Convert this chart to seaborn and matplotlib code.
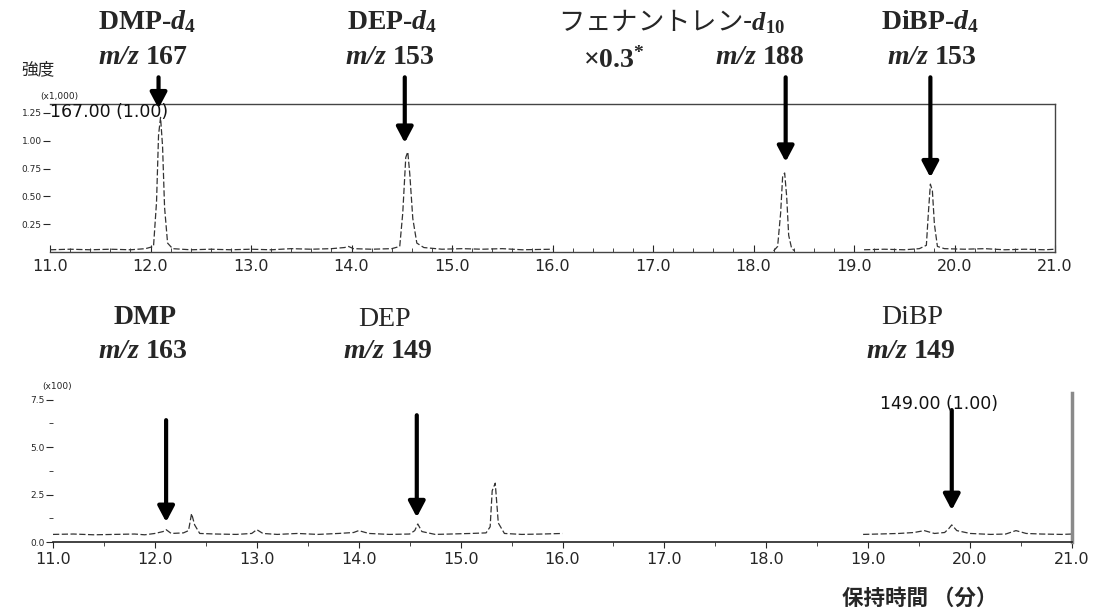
import numpy as np
import pandas as pd
import matplotlib
matplotlib.use("Agg")
import matplotlib.pyplot as plt
import seaborn as sns
from matplotlib.ticker import MultipleLocator, FixedLocator, FixedFormatter

# ---------------- data ----------------
# upper chromatogram (x1,000): three SIM windows
top_seg1_t = [11.00, 11.20, 11.40, 11.60, 11.80, 11.95, 12.03, 12.06, 12.08, 12.10,
              12.12, 12.14, 12.17, 12.22, 12.40, 12.60, 12.80, 13.00, 13.20, 13.40,
              13.60, 13.80, 13.93, 13.97, 14.02, 14.20, 14.40, 14.48, 14.51, 14.54,
              14.56, 14.58, 14.61, 14.65, 14.72, 14.90, 15.10, 15.30, 15.50, 15.70,
              16.00]
top_seg1_v = [0.02, 0.025, 0.02, 0.025, 0.02, 0.03, 0.05, 0.45, 1.05, 1.21,
              0.95, 0.40, 0.08, 0.03, 0.02, 0.025, 0.02, 0.025, 0.02, 0.03,
              0.025, 0.03, 0.04, 0.05, 0.03, 0.025, 0.03, 0.05, 0.35, 0.85,
              0.90, 0.70, 0.30, 0.08, 0.04, 0.025, 0.03, 0.025, 0.03, 0.02,
              0.025]
top_seg2_t = [18.20, 18.24, 18.27, 18.29, 18.31, 18.33, 18.35, 18.38, 18.41]
top_seg2_v = [0.01, 0.05, 0.35, 0.68, 0.71, 0.50, 0.15, 0.03, 0.01]
top_seg3_t = [19.10, 19.30, 19.50, 19.65, 19.72, 19.74, 19.76, 19.78, 19.80,
              19.83, 19.90, 20.10, 20.30, 20.50, 20.70, 20.90, 21.00]
top_seg3_v = [0.02, 0.025, 0.02, 0.03, 0.06, 0.35, 0.61, 0.55, 0.25,
              0.05, 0.03, 0.025, 0.03, 0.02, 0.025, 0.02, 0.025]

# lower chromatogram (x100)
bot_seg1_t = [11.00, 11.20, 11.40, 11.60, 11.80, 11.90, 12.00, 12.08, 12.11, 12.16,
              12.28, 12.33, 12.36, 12.39, 12.44, 12.60, 12.80, 12.95, 13.00, 13.06,
              13.20, 13.40, 13.60, 13.80, 13.95, 14.00, 14.10, 14.30, 14.50, 14.55,
              14.58, 14.62, 14.75, 14.90, 15.10, 15.25, 15.29, 15.31, 15.34, 15.37,
              15.43, 15.60, 15.80, 16.00]
bot_seg1_v = [0.40, 0.42, 0.38, 0.40, 0.42, 0.38, 0.45, 0.55, 0.65, 0.45,
              0.48, 0.60, 1.50, 0.90, 0.45, 0.42, 0.40, 0.45, 0.65, 0.45,
              0.40, 0.45, 0.40, 0.45, 0.50, 0.60, 0.45, 0.40, 0.42, 0.60,
              0.95, 0.55, 0.40, 0.42, 0.45, 0.48, 0.80, 2.70, 3.10, 1.00,
              0.45, 0.40, 0.42, 0.45]
bot_seg2_t = [18.95, 19.10, 19.30, 19.45, 19.55, 19.65, 19.75, 19.79, 19.82, 19.87,
              20.00, 20.20, 20.35, 20.45, 20.55, 20.70, 20.90, 21.00]
bot_seg2_v = [0.40, 0.42, 0.45, 0.50, 0.60, 0.45, 0.50, 0.70, 0.90, 0.60,
              0.45, 0.40, 0.42, 0.60, 0.45, 0.42, 0.40, 0.42]

x_ticks = [11.0, 12.0, 13.0, 14.0, 15.0, 16.0, 17.0, 18.0, 19.0, 20.0, 21.0]
x_tick_labels = ["11.0", "12.0", "13.0", "14.0", "15.0", "16.0", "17.0", "18.0", "19.0", "20.0", "21.0"]
top_y_ticks = [0.25, 0.50, 0.75, 1.00, 1.25]
top_y_labels = ["0.25", "0.50", "0.75", "1.00", "1.25"]
bot_y_ticks = [0.0, 2.5, 5.0, 7.5]
bot_y_labels = ["0.0", "2.5", "5.0", "7.5"]

# arrows (retention time, tip level, start level)
top_arrow_x = [12.08, 14.53, 18.32, 19.76]
top_arrow_tip = [1.29, 0.98, 0.81, 0.67]
top_arrow_start = 1.57
bot_arrow_x = [12.11, 14.57, 19.82]
bot_arrow_tip = [1.05, 1.30, 1.68]
bot_arrow_start = [6.42, 6.68, 6.95]

# ---------------- style ----------------
sns.set_style("white")
plt.rcParams["font.family"] = ["DejaVu Sans"]
plt.rcParams["mathtext.fontset"] = "custom"
plt.rcParams["mathtext.rm"] = "Liberation Serif:bold"
plt.rcParams["mathtext.it"] = "Liberation Serif:italic:bold"
plt.rcParams["mathtext.bf"] = "Liberation Serif:bold"
plt.rcParams["mathtext.bfit"] = "Liberation Serif:italic:bold"

W, H = 1095, 614
fig = plt.figure(figsize=(W / 100, H / 100), dpi=100)


def fx(x):
    return x / W


def fy(y):
    return 1 - y / H


def seg_frame(segs):
    rows = []
    for i, (t, v) in enumerate(segs):
        rows.append(pd.DataFrame({"t": t, "v": v, "seg": i}))
    return pd.concat(rows, ignore_index=True)


top_df = seg_frame([(top_seg1_t, top_seg1_v), (top_seg2_t, top_seg2_v), (top_seg3_t, top_seg3_v)])
bot_df = seg_frame([(bot_seg1_t, bot_seg1_v), (bot_seg2_t, bot_seg2_v)])

line_kw = dict(color="#333333", lw=0.9, linestyle=(0, (5, 2)))
arrow_kw = dict(arrowstyle="-|>,head_length=0.85,head_width=0.45", lw=3,
                color="black", mutation_scale=11, shrinkA=0, shrinkB=0)

# ---- upper panel
T_L, T_R, T_B, T_T = 50, 1055, 252, 104
ax1 = fig.add_axes([fx(T_L), fy(T_B), (T_R - T_L) / W, (T_B - T_T) / H])
sns.lineplot(data=top_df, x="t", y="v", units="seg", estimator=None, ax=ax1, legend=False, **line_kw)
ax1.set_xlim(11, 21)
ax1.set_ylim(0, 1.33)
ax1.set_xlabel("")
ax1.set_ylabel("")
for s in ["top", "right", "bottom"]:
    ax1.spines[s].set_visible(True)
    ax1.spines[s].set_color("#444444")
    ax1.spines[s].set_linewidth(1.0)
ax1.spines["left"].set_visible(False)
ax1.xaxis.set_major_locator(FixedLocator(x_ticks))
ax1.xaxis.set_major_formatter(FixedFormatter(x_tick_labels))
ax1.xaxis.set_minor_locator(MultipleLocator(0.2))
ax1.tick_params(axis="x", which="major", direction="in", length=5, width=0.8, labelsize=11.5, pad=5,
                bottom=True, top=False)
ax1.tick_params(axis="x", which="minor", direction="in", length=3, width=0.6, bottom=True, top=False)
ax1.yaxis.set_major_locator(FixedLocator(top_y_ticks))
ax1.yaxis.set_major_formatter(FixedFormatter(top_y_labels))
ax1.tick_params(axis="y", which="major", direction="out", length=5, width=0.8, labelsize=6.5, pad=1,
                left=True, right=False)

for x, tip in zip(top_arrow_x, top_arrow_tip):
    ax1.annotate("", xy=(x, tip), xytext=(x, top_arrow_start), annotation_clip=False,
                 arrowprops=arrow_kw)

# ---- lower panel
B_L, B_R, B_B, B_T = 53, 1072, 542, 393
ax2 = fig.add_axes([fx(B_L), fy(B_B), (B_R - B_L) / W, (B_B - B_T) / H])
sns.lineplot(data=bot_df, x="t", y="v", units="seg", estimator=None, ax=ax2, legend=False, **line_kw)
ax2.set_xlim(11, 21)
ax2.set_ylim(0, 7.85)
ax2.set_xlabel("")
ax2.set_ylabel("")
ax2.spines["top"].set_visible(False)
ax2.spines["left"].set_visible(False)
ax2.spines["bottom"].set_visible(True)
ax2.spines["bottom"].set_color("#222222")
ax2.spines["bottom"].set_linewidth(1.2)
ax2.spines["right"].set_visible(True)
ax2.spines["right"].set_color("#8a8a8a")
ax2.spines["right"].set_linewidth(2.5)
ax2.xaxis.set_major_locator(FixedLocator(x_ticks))
ax2.xaxis.set_major_formatter(FixedFormatter(x_tick_labels))
ax2.xaxis.set_minor_locator(MultipleLocator(0.5))
ax2.tick_params(axis="x", which="major", direction="out", length=4, width=0.8, labelsize=11.5, pad=3,
                bottom=True, top=False)
ax2.tick_params(axis="x", which="minor", direction="out", length=3, width=0.6, bottom=True, top=False)
ax2.yaxis.set_major_locator(FixedLocator(bot_y_ticks))
ax2.yaxis.set_major_formatter(FixedFormatter(bot_y_labels))
ax2.yaxis.set_minor_locator(MultipleLocator(1.25))
ax2.tick_params(axis="y", which="major", direction="out", length=5, width=0.8, labelsize=6.5, pad=1,
                left=True, right=False)
ax2.tick_params(axis="y", which="minor", direction="out", length=3, width=0.6, left=True, right=False)

for x, tip, st in zip(bot_arrow_x, bot_arrow_tip, bot_arrow_start):
    ax2.annotate("", xy=(x, tip), xytext=(x, st), annotation_clip=False, arrowprops=arrow_kw)

# ---------------- texts ----------------
serif_b = dict(family="Liberation Serif", weight="bold", fontsize=20, ha="center", va="center")
serif_r = dict(family="Liberation Serif", weight="normal", fontsize=20, ha="center", va="center")
jp = ["Noto Sans CJK JP", "DejaVu Sans"]

fig.text(fx(147), fy(22), r"DMP-$\mathbfit{d}_{\mathbf{4}}$", **serif_b)
fig.text(fx(392), fy(22), r"DEP-$\mathbfit{d}_{\mathbf{4}}$", **serif_b)
fig.text(fx(672), fy(22), r"フェナントレン-$\mathbfit{d}_{\mathbf{10}}$", family=jp, fontsize=19,
         ha="center", va="center")
fig.text(fx(930), fy(22), r"DiBP-$\mathbfit{d}_{\mathbf{4}}$", **serif_b)

fig.text(fx(143), fy(58), r"$\mathbfit{m/z}$ 167", **serif_b)
fig.text(fx(390), fy(58), r"$\mathbfit{m/z}$ 153", **serif_b)
fig.text(fx(614), fy(60), r"×0.3$^{*}$", **serif_b)
fig.text(fx(760), fy(58), r"$\mathbfit{m/z}$ 188", **serif_b)
fig.text(fx(932), fy(58), r"$\mathbfit{m/z}$ 153", **serif_b)
fig.text(fx(38), fy(70), "強度", family=jp, fontsize=12, ha="center", va="center")

fig.text(fx(145), fy(318), "DMP", **serif_b)
fig.text(fx(143), fy(352), r"$\mathbfit{m/z}$ 163", **serif_b)
fig.text(fx(385), fy(320), "DEP", **serif_r)
fig.text(fx(388), fy(352), r"$\mathbfit{m/z}$ 149", **serif_b)
fig.text(fx(912), fy(318), "DiBP", **serif_r)
fig.text(fx(911), fy(352), r"$\mathbfit{m/z}$ 149", **serif_b)

fig.text(fx(920), fy(598), "保持時間 （分）", family=jp, fontsize=15.5, weight="bold",
         ha="center", va="center")

fig.text(fx(40), fy(97), "(x1,000)", fontsize=6.5, ha="left", va="center", color="#222222")
fig.text(fx(50), fy(112), "167.00 (1.00)", fontsize=12.5, ha="left", va="center", color="#111111")
fig.text(fx(42), fy(387), "(x100)", fontsize=6.5, ha="left", va="center", color="#222222")
fig.text(fx(880), fy(404), "149.00 (1.00)", fontsize=12.5, ha="left", va="center", color="#111111")

fig.savefig("out.png", dpi=100, facecolor="white")
